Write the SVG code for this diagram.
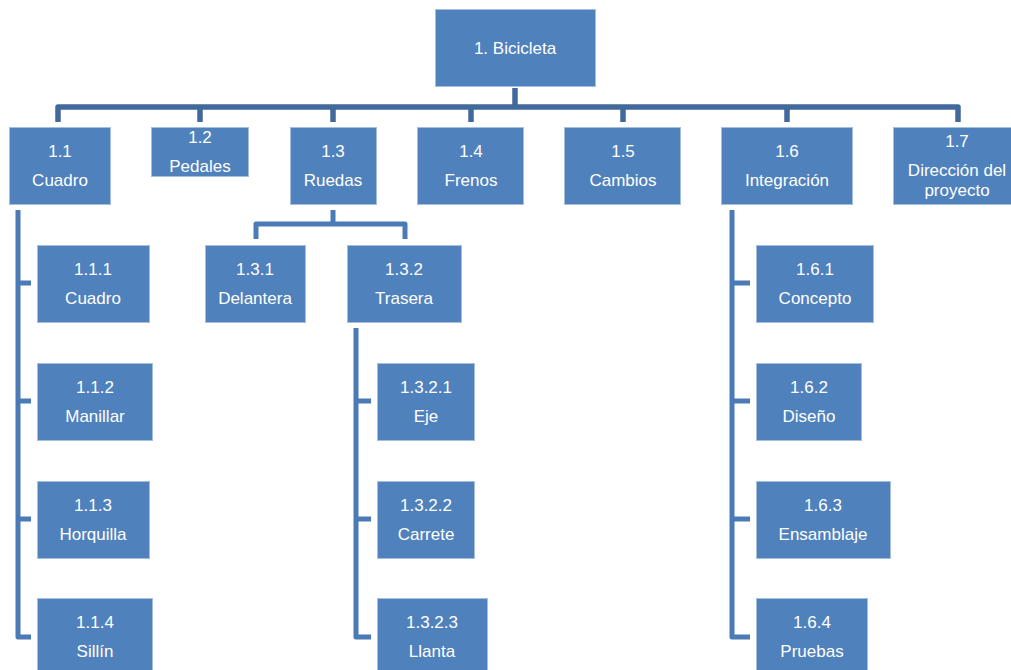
<svg xmlns="http://www.w3.org/2000/svg" width="1011" height="670" viewBox="0 0 1011 670">
<style>
.box{fill:#4F81BD;stroke:#A7BFDE;stroke-width:1}
.t{font-family:"Liberation Sans",Arial,sans-serif;font-size:17px;fill:#FFFFFF;text-anchor:middle}
.c1{fill:none;stroke:#41699B;stroke-width:5.5;stroke-linejoin:round}
.c2{fill:none;stroke:#4A7BB6;stroke-width:5;stroke-linejoin:round}
</style>
<rect width="1011" height="670" fill="#FFFFFF"/>
<g id="connectors">
<path class="c1" d="M515 88V107M58 122V107H958V122M200 107V122M333 107V122M471 107V122M623 107V122M787 107V122"/>
<path class="c2" d="M18 210V637H31M18 283H31M18 401H31M18 519H31"/>
<path class="c2" d="M333 210V224M256 239V224H405V239"/>
<path class="c2" d="M356 328V637H371M356 401H371M356 519H371"/>
<path class="c2" d="M732 210V637H750M732 283H750M732 401H750M732 519H750"/>
</g>
<g id="n1"><rect class="box" x="435.5" y="9.5" width="160" height="77"/><text class="t" x="515" y="54">1. Bicicleta</text></g>
<g id="n1_1"><rect class="box" x="9.5" y="127.5" width="101" height="77"/><text class="t" x="60" y="157">1.1</text><text class="t" x="60" y="186">Cuadro</text></g>
<g id="n1_2"><rect class="box" x="151.5" y="127.5" width="97" height="49"/><text class="t" x="200" y="143">1.2</text><text class="t" x="200" y="172">Pedales</text></g>
<g id="n1_3"><rect class="box" x="290.5" y="127.5" width="86" height="77"/><text class="t" x="333" y="157">1.3</text><text class="t" x="333" y="186">Ruedas</text></g>
<g id="n1_4"><rect class="box" x="417.5" y="127.5" width="106" height="77"/><text class="t" x="471" y="157">1.4</text><text class="t" x="471" y="186">Frenos</text></g>
<g id="n1_5"><rect class="box" x="564.5" y="127.5" width="116" height="77"/><text class="t" x="623" y="157">1.5</text><text class="t" x="623" y="186">Cambios</text></g>
<g id="n1_6"><rect class="box" x="721.5" y="127.5" width="131" height="77"/><text class="t" x="787" y="157">1.6</text><text class="t" x="787" y="186">Integración</text></g>
<g id="n1_7"><rect class="box" x="893.5" y="127.5" width="118" height="77"/><text class="t" x="957" y="147">1.7</text><text class="t" x="957" y="176">Dirección del</text><text class="t" x="957" y="196">proyecto</text></g>
<g id="n1_1_1"><rect class="box" x="37.5" y="245.5" width="112" height="77"/><text class="t" x="93" y="275">1.1.1</text><text class="t" x="93" y="304">Cuadro</text></g>
<g id="n1_1_2"><rect class="box" x="37.5" y="363.5" width="115" height="77"/><text class="t" x="95" y="393">1.1.2</text><text class="t" x="95" y="422">Manillar</text></g>
<g id="n1_1_3"><rect class="box" x="37.5" y="481.5" width="112" height="77"/><text class="t" x="93" y="511">1.1.3</text><text class="t" x="93" y="540">Horquilla</text></g>
<g id="n1_1_4"><rect class="box" x="37.5" y="598.5" width="115" height="77"/><text class="t" x="95" y="628">1.1.4</text><text class="t" x="95" y="657">Sillín</text></g>
<g id="n1_3_1"><rect class="box" x="205.5" y="245.5" width="100" height="77"/><text class="t" x="255" y="275">1.3.1</text><text class="t" x="255" y="304">Delantera</text></g>
<g id="n1_3_2"><rect class="box" x="347.5" y="245.5" width="114" height="77"/><text class="t" x="404" y="275">1.3.2</text><text class="t" x="404" y="304">Trasera</text></g>
<g id="n1_3_2_1"><rect class="box" x="377.5" y="363.5" width="97" height="77"/><text class="t" x="426" y="393">1.3.2.1</text><text class="t" x="426" y="422">Eje</text></g>
<g id="n1_3_2_2"><rect class="box" x="377.5" y="481.5" width="97" height="77"/><text class="t" x="426" y="511">1.3.2.2</text><text class="t" x="426" y="540">Carrete</text></g>
<g id="n1_3_2_3"><rect class="box" x="377.5" y="598.5" width="110" height="77"/><text class="t" x="432" y="628">1.3.2.3</text><text class="t" x="432" y="657">Llanta</text></g>
<g id="n1_6_1"><rect class="box" x="756.5" y="245.5" width="117" height="77"/><text class="t" x="815" y="275">1.6.1</text><text class="t" x="815" y="304">Concepto</text></g>
<g id="n1_6_2"><rect class="box" x="756.5" y="363.5" width="105" height="77"/><text class="t" x="809" y="393">1.6.2</text><text class="t" x="809" y="422">Diseño</text></g>
<g id="n1_6_3"><rect class="box" x="756.5" y="481.5" width="134" height="77"/><text class="t" x="823" y="511">1.6.3</text><text class="t" x="823" y="540">Ensamblaje</text></g>
<g id="n1_6_4"><rect class="box" x="756.5" y="598.5" width="111" height="77"/><text class="t" x="812" y="628">1.6.4</text><text class="t" x="812" y="657">Pruebas</text></g>
</svg>
